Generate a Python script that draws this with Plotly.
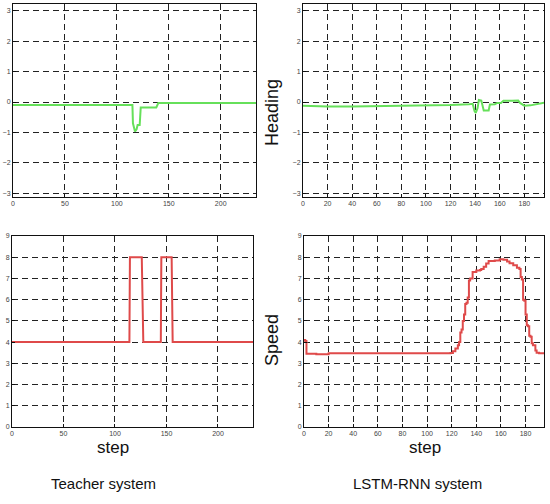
import plotly.graph_objects as go

W, H = 550, 504

# ---------- data ----------
teacher_heading_x = [0, 115, 115.5, 117.5, 119, 120, 122, 123, 138, 139, 140, 234]
teacher_heading_y = [-0.1, -0.1, -0.7, -0.97, -0.9, -0.76, -0.76, -0.18, -0.18, -0.06, -0.03, -0.03]

teacher_speed_x = [0, 114, 114.5, 126, 127.5, 144.5, 145, 155, 156, 234]
teacher_speed_y = [4, 4, 8, 8, 4, 4, 8, 8, 4, 4]

lstm_heading_x = [0, 10, 20, 40, 60, 80, 100, 120, 135, 138, 139.5, 140.5, 142, 143, 145, 146,
                  147, 151, 152, 156, 158, 161, 163, 170, 175, 176.5, 178, 180, 185, 190, 196]
lstm_heading_y = [-0.12, -0.14, -0.15, -0.15, -0.14, -0.13, -0.12, -0.1, -0.07, -0.06, -0.3, -0.36,
                  -0.2, 0.07, 0.05, -0.1, -0.28, -0.28, -0.08, -0.07, -0.03, -0.03, 0.04, 0.04, 0.05,
                  -0.03, -0.07, -0.12, -0.11, -0.07, -0.02]

lstm_speed_x = [0, 1, 2, 10, 20, 40, 60, 80, 100, 119, 121, 123, 125, 126, 127, 128, 129,
                130, 131, 132, 133, 134, 135, 137, 140, 143, 144, 146, 148, 150,
                155, 159, 162, 165, 167, 170, 173, 175, 176, 177, 178, 179, 180, 181,
                182, 183, 184, 185, 186, 188, 189, 191, 195]
lstm_speed_y = [4.1, 4.05, 3.45, 3.43, 3.47, 3.48, 3.47, 3.48, 3.48, 3.49, 3.57, 3.7, 3.85,
                4.0, 4.45, 4.6, 5.0, 5.3, 5.8, 5.85, 6.1, 6.9, 7.0, 7.3, 7.38, 7.4, 7.45, 7.55,
                7.7, 7.82, 7.85, 7.9, 7.88, 7.8, 7.72, 7.62, 7.5, 7.45, 7.07, 6.95, 6.0, 5.95,
                5.3, 4.8, 4.75, 4.3, 4.25, 3.95, 3.85, 3.6, 3.5, 3.47, 3.45]

heading_ticks = [-3, -2, -1, 0, 1, 2, 3]
speed_ticks = [0, 1, 2, 3, 4, 5, 6, 7, 8, 9]
teacher_step_ticks = [0, 50, 100, 150, 200]
lstm_step_ticks = [0, 20, 40, 60, 80, 100, 120, 140, 160, 180]

GREEN = "#66e05a"
RED = "#df4a4a"

# ---------- layout helpers ----------
def xd(px0, px1):
    return [px0 / W, px1 / W]

def yd(py_top, py_bot):
    return [1 - py_bot / H, 1 - py_top / H]

fig = go.Figure()

panels = [
    ("", (13, 256), (4, 197), [0, 234], [-3.13, 3.23], teacher_step_ticks, heading_ticks,
     teacher_heading_x, teacher_heading_y, GREEN, "linear"),
    ("2", (303, 544), (4, 197), [0, 196], [-3.13, 3.23], lstm_step_ticks, heading_ticks,
     lstm_heading_x, lstm_heading_y, GREEN, "linear"),
    ("3", (12, 253), (236, 427), [0, 234], [0, 9], teacher_step_ticks, speed_ticks,
     teacher_speed_x, teacher_speed_y, RED, "linear"),
    ("4", (304, 544), (236, 427), [0, 195], [0, 9], lstm_step_ticks, speed_ticks,
     lstm_speed_x, lstm_speed_y, RED, "hv"),
]

axis_common = dict(
    showline=True, mirror=True, linecolor="#111", linewidth=1,
    showgrid=True, gridcolor="#222", gridwidth=1, griddash="6px,4px",
    zeroline=False, ticks="inside", ticklen=3, tickcolor="#111",
    tickfont=dict(family="Liberation Sans, Arial", size=7, color="#444"),
    fixedrange=True, automargin=False,
)

for suf, xpx, ypx, xr, yr, xt, yt, xs, ys, col, shape in panels:
    fig.add_trace(go.Scatter(
        x=xs, y=ys, mode="lines",
        line=dict(color=col, width=2, shape=shape),
        xaxis="x" + suf, yaxis="y" + suf, showlegend=False, hoverinfo="skip",
    ))
    fig.layout["xaxis" + suf] = dict(
        domain=xd(*xpx), range=xr, tickvals=xt, anchor="y" + suf, **axis_common)
    fig.layout["yaxis" + suf] = dict(
        domain=yd(*ypx), range=yr, tickvals=yt, anchor="x" + suf, **axis_common)

label_font = dict(family="Liberation Sans, Arial", size=18, color="#111")
annotations = [
    dict(text="Heading", x=272 / W, y=1 - 113 / H, textangle=-90, font=label_font),
    dict(text="Speed", x=272 / W, y=1 - 340 / H, textangle=-90, font=label_font),
    dict(text="step", x=113 / W, y=1 - 447 / H, font=dict(label_font, size=17)),
    dict(text="step", x=425 / W, y=1 - 447 / H, font=dict(label_font, size=17)),
    dict(text="Teacher system", x=103 / W, y=1 - 483 / H,
         font=dict(family="Liberation Sans, Arial", size=15, color="#111")),
    dict(text="LSTM-RNN system", x=417 / W, y=1 - 483 / H,
         font=dict(family="Liberation Sans, Arial", size=15, color="#111")),
]
for a in annotations:
    a.update(xref="paper", yref="paper", showarrow=False, xanchor="center", yanchor="middle")

fig.update_layout(
    width=W, height=H,
    margin=dict(l=0, r=0, t=0, b=0),
    paper_bgcolor="white", plot_bgcolor="white",
    annotations=annotations,
)

fig.write_html(
    "out.html",
    config={"displayModeBar": False, "staticPlot": True},
    post_script="document.body.style.margin='0';document.body.style.padding='0';"
                "document.body.style.overflow='hidden';",
)
